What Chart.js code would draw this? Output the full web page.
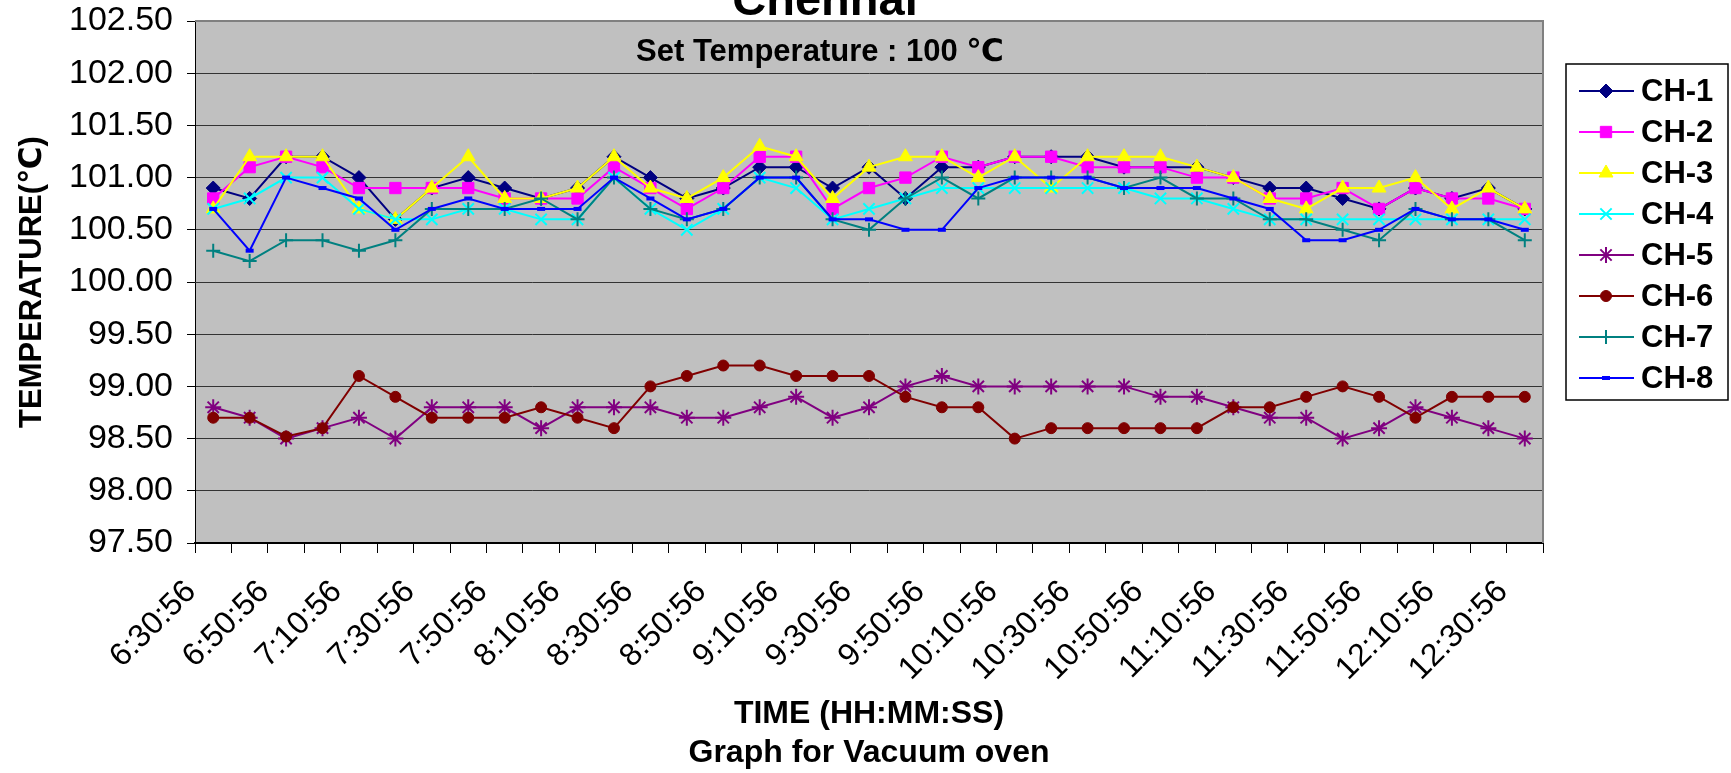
<!DOCTYPE html>
<html>
<head>
<meta charset="utf-8">
<script src="https://cdn.jsdelivr.net/npm/chart.js@4.4.0/dist/chart.umd.min.js"></script>
<style>
html,body{margin:0;padding:0;background:#fff;}
#wrap{width:1731px;height:773px;position:relative;}
</style>
</head>
<body>
<div id="wrap"><canvas id="c" width="1731" height="773"></canvas></div>
<script>
// ---- data ----
const timeLabels = ['6:30:56','6:40:56','6:50:56','7:00:56','7:10:56','7:20:56','7:30:56','7:40:56','7:50:56',
  '8:00:56','8:10:56','8:20:56','8:30:56','8:40:56','8:50:56','9:00:56','9:10:56','9:20:56','9:30:56','9:40:56',
  '9:50:56','10:00:56','10:10:56','10:20:56','10:30:56','10:40:56','10:50:56','11:00:56','11:10:56','11:20:56',
  '11:30:56','11:40:56','11:50:56','12:00:56','12:10:56','12:20:56','12:30:56'];

const ch1 = [100.9,100.8,101.2,101.2,101.0,100.6,100.9,101.0,100.9,100.8,100.9,101.2,101.0,100.8,100.9,101.1,101.1,100.9,101.1,
  100.8,101.1,101.1,101.2,101.2,101.2,101.1,101.1,101.1,101.0,100.9,100.9,100.8,100.7,100.9,100.8,100.9,100.7];
const ch2 = [100.8,101.1,101.2,101.1,100.9,100.9,100.9,100.9,100.8,100.8,100.8,101.1,100.9,100.7,100.9,101.2,101.2,100.7,100.9,
  101.0,101.2,101.1,101.2,101.2,101.1,101.1,101.1,101.0,101.0,100.8,100.8,100.9,100.7,100.9,100.8,100.8,100.7];
const ch3 = [100.7,101.2,101.2,101.2,100.7,100.6,100.9,101.2,100.8,100.8,100.9,101.2,100.9,100.8,101.0,101.3,101.2,100.8,101.1,
  101.2,101.2,101.0,101.2,100.9,101.2,101.2,101.2,101.1,101.0,100.8,100.7,100.9,100.9,101.0,100.7,100.9,100.7];
const ch4 = [100.7,100.8,101.0,101.0,100.7,100.6,100.6,100.7,100.7,100.6,100.6,101.0,100.7,100.5,100.7,101.0,100.9,100.6,100.7,
  100.8,100.9,100.9,100.9,100.9,100.9,100.9,100.8,100.8,100.7,100.6,100.6,100.6,100.6,100.6,100.6,100.6,100.6];
const ch5 = [98.8,98.7,98.5,98.6,98.7,98.5,98.8,98.8,98.8,98.6,98.8,98.8,98.8,98.7,98.7,98.8,98.9,98.7,98.8,
  99.0,99.1,99.0,99.0,99.0,99.0,99.0,98.9,98.9,98.8,98.7,98.7,98.5,98.6,98.8,98.7,98.6,98.5];
const ch6 = [98.7,98.7,98.52,98.6,99.1,98.9,98.7,98.7,98.7,98.8,98.7,98.6,99.0,99.1,99.2,99.2,99.1,99.1,99.1,
  98.9,98.8,98.8,98.5,98.6,98.6,98.6,98.6,98.6,98.8,98.8,98.9,99.0,98.9,98.7,98.9,98.9,98.9];
const ch7 = [100.3,100.2,100.4,100.4,100.3,100.4,100.7,100.7,100.7,100.8,100.6,101.0,100.7,100.6,100.7,101.0,101.0,100.6,100.5,
  100.8,101.0,100.8,101.0,101.0,101.0,100.9,101.0,100.8,100.8,100.6,100.6,100.5,100.4,100.7,100.6,100.6,100.4];
const ch8 = [100.7,100.3,101.0,100.9,100.8,100.5,100.7,100.8,100.7,100.7,100.7,101.0,100.8,100.6,100.7,101.0,101.0,100.6,100.6,
  100.5,100.5,100.9,101.0,101.0,101.0,100.9,100.9,100.9,100.8,100.7,100.4,100.4,100.5,100.7,100.6,100.6,100.5];

const seriesNames = ['CH-1','CH-2','CH-3','CH-4','CH-5','CH-6','CH-7','CH-8'];
const yMin = 97.5, yMax = 102.5, yStep = 0.5;
const chartTitle = 'Chennai';
const subTitle = 'Set Temperature : 100 \u2103';
const yTitle = 'TEMPERATURE(\u2103)';
const xTitle = ['TIME (HH:MM:SS)', 'Graph for Vacuum oven'];

// ---- styles ----
const FONT = '"Liberation Sans", Arial, "DejaVu Sans", sans-serif';
const styles = [
  {color:'#000080', pointStyle:'rectRot', radius:7, bw:1},
  {color:'#FF00FF', pointStyle:'rect', radius:8, bw:1},
  {color:'#FFFF00', pointStyle:'triangle', radius:8, bw:1},
  {color:'#00FFFF', pointStyle:'crossRot', radius:8, bw:2},
  {color:'#800080', pointStyle:'star', radius:8, bw:2},
  {color:'#800000', pointStyle:'circle', radius:5.5, bw:1},
  {color:'#008080', pointStyle:'cross', radius:7, bw:2},
  {color:'#0000FF', pointStyle:'line', radius:4, bw:4}
];
const allSeries = [ch1, ch2, ch3, ch4, ch5, ch6, ch7, ch8];

const datasets = allSeries.map((d, i) => ({
  label: seriesNames[i],
  data: d,
  borderColor: styles[i].color,
  backgroundColor: styles[i].color,
  pointBackgroundColor: styles[i].color,
  pointBorderColor: styles[i].color,
  pointStyle: styles[i].pointStyle,
  pointRadius: styles[i].radius,
  pointBorderWidth: styles[i].bw,
  borderWidth: 2,
  tension: 0,
  fill: false,
  order: 8 - i
}));

const LEG = { x: 1566, y: 64, w: 162, h: 336, first: 91, step: 41, lineX0: 1579, lineX1: 1634, markX: 1606, textX: 1641 };

const decor = {
  id: 'decor',
  beforeDraw(chart) {
    const {ctx, chartArea: a} = chart;
    ctx.save();
    ctx.fillStyle = '#C0C0C0';
    ctx.fillRect(a.left, a.top, a.right - a.left, a.bottom - a.top);
    ctx.restore();
  },
  beforeDatasetsDraw(chart) {
    const {ctx, chartArea: a} = chart;
    ctx.save();
    ctx.strokeStyle = '#808080';
    ctx.lineWidth = 2;
    ctx.beginPath();
    ctx.moveTo(a.left, a.top);
    ctx.lineTo(a.right, a.top);
    ctx.lineTo(a.right, a.bottom);
    ctx.stroke();
    ctx.fillStyle = '#000';
    ctx.font = 'bold 31px ' + FONT;
    ctx.textAlign = 'center';
    ctx.textBaseline = 'alphabetic';
    ctx.fillText(subTitle, 820, 61);
    ctx.restore();
  },
  afterDraw(chart) {
    const ctx = chart.ctx;
    ctx.save();
    ctx.fillStyle = '#000';
    ctx.font = 'bold 47px ' + FONT;
    ctx.textAlign = 'center';
    ctx.textBaseline = 'alphabetic';
    ctx.fillText(chartTitle, 825, 15);
    ctx.fillStyle = '#fff';
    ctx.fillRect(LEG.x, LEG.y, LEG.w, LEG.h);
    ctx.strokeStyle = '#000';
    ctx.lineWidth = 1.5;
    ctx.strokeRect(LEG.x, LEG.y, LEG.w, LEG.h);
    chart.data.datasets.forEach((ds, i) => {
      const y = LEG.first + i * LEG.step;
      ctx.strokeStyle = ds.borderColor;
      ctx.lineWidth = 2;
      ctx.beginPath();
      ctx.moveTo(LEG.lineX0, y);
      ctx.lineTo(LEG.lineX1, y);
      ctx.stroke();
      ctx.fillStyle = ds.pointBackgroundColor;
      ctx.strokeStyle = ds.pointBorderColor;
      ctx.lineWidth = ds.pointBorderWidth;
      Chart.helpers.drawPoint(ctx, {pointStyle: ds.pointStyle, radius: ds.pointRadius, borderWidth: ds.pointBorderWidth, rotation: 0}, LEG.markX, y);
      ctx.fillStyle = '#000';
      ctx.font = 'bold 31px ' + FONT;
      ctx.textAlign = 'left';
      ctx.textBaseline = 'middle';
      ctx.fillText(ds.label, LEG.textX, y + 1);
    });
    ctx.restore();
  }
};

Chart.defaults.font.family = FONT;
Chart.defaults.color = '#000';

new Chart(document.getElementById('c'), {
  type: 'line',
  data: { labels: timeLabels, datasets: datasets },
  options: {
    responsive: false,
    animation: false,
    devicePixelRatio: 1,
    layout: { autoPadding: false, padding: { left: 0, top: 21, right: 188, bottom: 0 } },
    plugins: { legend: { display: false }, tooltip: { enabled: false }, title: { display: false } },
    scales: {
      x: {
        type: 'category',
        offset: true,
        afterFit(s) { s.height = 230; s.paddingLeft = 0; s.paddingRight = 0; },
        grid: { drawOnChartArea: false, offset: true, drawTicks: true, tickLength: 10, color: '#000', lineWidth: 1 },
        border: { display: true, color: '#000', width: 2 },
        ticks: {
          autoSkip: false, maxRotation: 45, minRotation: 45, padding: 20, labelOffset: -22,
          font: { size: 32 }, color: '#000',
          callback(value, index) { return index % 2 === 0 ? this.getLabelForValue(value) : ''; }
        },
        title: { display: true, text: xTitle, font: { size: 32, weight: 'bold', lineHeight: 1.22 }, color: '#000', padding: { top: 0, bottom: 0 } }
      },
      y: {
        min: yMin, max: yMax,
        afterFit(s) { s.width = 195; s.paddingTop = 0; s.paddingBottom = 0; },
        grid: { color: '#333', lineWidth: 1, drawTicks: true, tickLength: 8, tickColor: '#000' },
        border: { display: true, color: '#000', width: 1 },
        ticks: { stepSize: yStep, padding: 14, font: { size: 34 }, color: '#000',
          callback(v) { return Number(v).toFixed(2); } },
        title: { display: true, text: yTitle, font: { size: 31, weight: 'bold', lineHeight: 1.2 }, color: '#000', padding: { top: 14, bottom: 0 } }
      }
    }
  },
  plugins: [decor]
});
</script>
</body>
</html>
